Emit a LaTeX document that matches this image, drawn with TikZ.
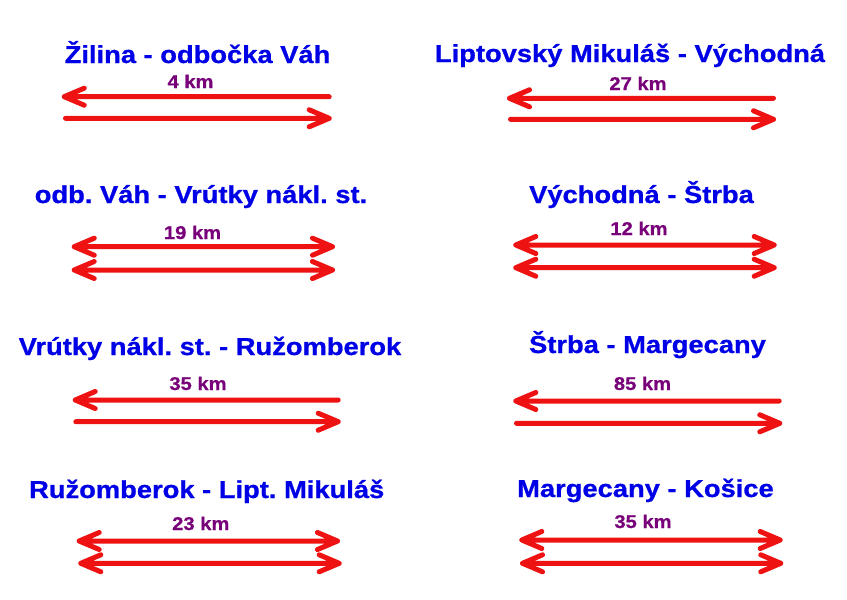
\documentclass[tikz,border=0pt]{standalone}
\usepackage{fontspec}
\setmainfont{Liberation Sans}
\newfontfamily\titlefont[FakeStretch=1.115,FakeBold=0.8]{Liberation Sans Bold}
\newfontfamily\kmfont[FakeStretch=1.09,FakeBold=0.6]{Liberation Sans Bold}
\definecolor{titleblue}{RGB}{0,0,230}
\definecolor{kmpurple}{RGB}{120,0,120}
\definecolor{trackred}{RGB}{238,18,18}
\frenchspacing
\tikzset{
  title/.style={anchor=base, inner sep=0pt, text=titleblue, font=\titlefont\fontsize{24.5}{28}\selectfont},
  kmlabel/.style={anchor=base, inner sep=0pt, text=kmpurple, font=\kmfont\fontsize{18.5}{22}\selectfont},
  track/.style={draw=trackred, line width=5pt, line cap=round, line join=round}
}
% one-way to the left, one-way to the right, both ways
\newcommand{\trkL}[2]{\draw[track] (#2) -- (#1) -- ++(20,-8.5) (#1) -- ++(20,8.5);}
\newcommand{\trkR}[2]{\draw[track] (#1) -- (#2) -- ++(-20,-8.5) (#2) -- ++(-20,8.5);}
\newcommand{\trkLR}[2]{\draw[track] (#1) -- (#2) -- ++(-20,-8.5) (#2) -- ++(-20,8.5) (#1) -- ++(20,-8.5) (#1) -- ++(20,8.5);}
\begin{document}
\begin{tikzpicture}[x=1pt,y=-1pt]
\useasboundingbox[fill=white] (0,0) rectangle (847,600);
% Row 1 left
\node[title] (t1) at (197.5,63) {Žilina - odbočka Váh};
\node[kmlabel] (k1) at (190.5,88) {4 km};
\coordinate (a1l) at (64.2,96.7); \coordinate (a1r) at (329.2,96.7);
\coordinate (b1l) at (65.5,118.3); \coordinate (b1r) at (329.2,118.3);
\trkL{a1l}{a1r}
\trkR{b1l}{b1r}
% Row 1 right
\node[title] (t2) at (630,62) {Liptovský Mikuláš - Východná};
\node[kmlabel] (k2) at (638,90) {27 km};
\coordinate (a2l) at (509.5,98.3); \coordinate (a2r) at (773.5,98.3);
\coordinate (b2l) at (510.5,119.3); \coordinate (b2r) at (773.5,119.3);
\trkL{a2l}{a2r}
\trkR{b2l}{b2r}
% Row 2 left
\node[title] (t3) at (201,203) {odb. Váh - Vrútky nákl. st.};
\node[kmlabel] (k3) at (192.5,239) {19 km};
\coordinate (a3l) at (74.2,246.7); \coordinate (a3r) at (332.5,246.7);
\coordinate (b3l) at (74.2,270); \coordinate (b3r) at (332.5,270);
\trkLR{a3l}{a3r}
\trkLR{b3l}{b3r}
% Row 2 right
\node[title] (t4) at (641.5,203) {Východná - Štrba};
\node[kmlabel] (k4) at (639,235) {12 km};
\coordinate (a4l) at (515.8,245); \coordinate (a4r) at (774.2,245);
\coordinate (b4l) at (515.8,267.7); \coordinate (b4r) at (774.2,267.7);
\trkLR{a4l}{a4r}
\trkLR{b4l}{b4r}
% Row 3 left
\node[title] (t5) at (210,355) {Vrútky nákl. st. - Ružomberok};
\node[kmlabel] (k5) at (198,390) {35 km};
\coordinate (a5l) at (75.2,400); \coordinate (a5r) at (338.2,400);
\coordinate (b5l) at (75.8,421.7); \coordinate (b5r) at (338.2,421.7);
\trkL{a5l}{a5r}
\trkR{b5l}{b5r}
% Row 3 right
\node[title] (t6) at (647.5,353) {Štrba - Margecany};
\node[kmlabel] (k6) at (642.5,390) {85 km};
\coordinate (a6l) at (515.8,401); \coordinate (a6r) at (779.2,401);
\coordinate (b6l) at (516.5,423.3); \coordinate (b6r) at (779.8,423.3);
\trkL{a6l}{a6r}
\trkR{b6l}{b6r}
% Row 4 left
\node[title] (t7) at (206.7,498) {Ružomberok - Lipt. Mikuláš};
\node[kmlabel] (k7) at (200.8,530) {23 km};
\coordinate (a7l) at (79.2,541); \coordinate (a7r) at (337.5,541);
\coordinate (b7l) at (80.8,563.3); \coordinate (b7r) at (339.2,563.3);
\trkLR{a7l}{a7r}
\trkLR{b7l}{b7r}
% Row 4 right
\node[title] (t8) at (645.5,497) {Margecany - Košice};
\node[kmlabel] (k8) at (643,528) {35 km};
\coordinate (a8l) at (521.8,540); \coordinate (a8r) at (780.2,540);
\coordinate (b8l) at (522.5,563.3); \coordinate (b8r) at (780.8,563.3);
\trkLR{a8l}{a8r}
\trkLR{b8l}{b8r}
\end{tikzpicture}
\end{document}
